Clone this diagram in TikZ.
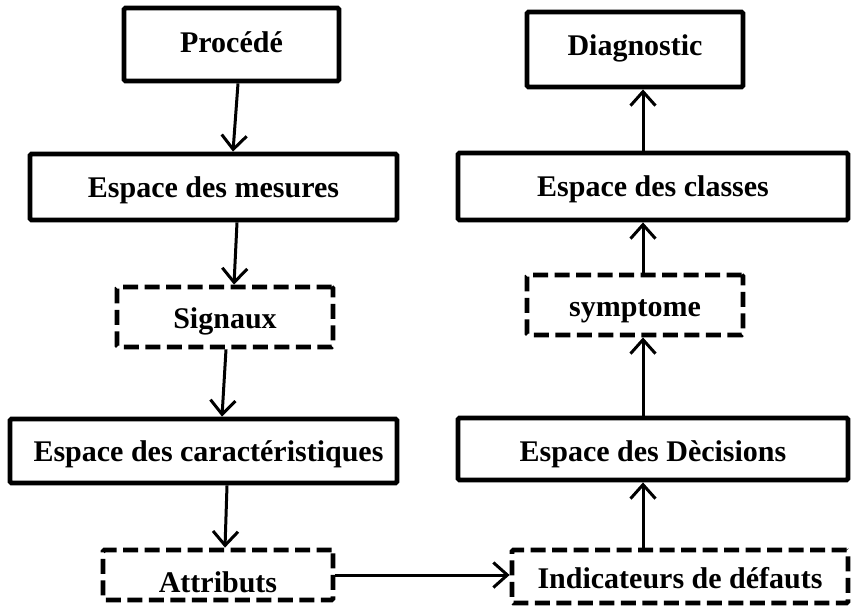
\documentclass[tikz,border=0pt]{standalone}
\usepackage{fontspec}
\setmainfont{Liberation Serif}
\usetikzlibrary{arrows.meta}
\begin{document}
\begin{tikzpicture}[x=1pt,y=-1pt,
  box/.style={draw, line width=4.8pt, rounded corners=1.5pt, inner sep=0pt,
    text height=0pt, text depth=0pt, font=\fontsize{30}{33}\selectfont\bfseries},
  dbox/.style={box, dash pattern=on 15pt off 6.5pt},
  conn/.style={line width=3pt, -{Straight Barb[length=14pt,width=25pt,line width=3pt]}}]
\useasboundingbox (0,0) rectangle (853,606);
\node[box, minimum width=215pt, minimum height=73pt] (proc) at (231.5,44.5) {\raisebox{-8pt}{Procédé}};
\node[box, minimum width=367pt, minimum height=66pt] (mes) at (213.5,187) {\raisebox{-10pt}{Espace des mesures}};
\node[dbox, minimum width=216pt, minimum height=60pt] (sig) at (225,317) {\raisebox{-11pt}{Signaux}};
\node[box, minimum width=387pt, minimum height=64pt] (car) at (203.5,451) {\raisebox{-10pt}{\hspace*{10pt}Espace des caractéristiques}};
\node[dbox, minimum width=230pt, minimum height=50pt] (att) at (218,575) {\raisebox{-17pt}{Attributs}};
\node[dbox, minimum width=336pt, minimum height=53pt] (ind) at (680,576.5) {\raisebox{-12pt}{Indicateurs de défauts}};
\node[box, minimum width=390pt, minimum height=62pt] (dec) at (653,449) {\raisebox{-12pt}{Espace des Dècisions}};
\node[dbox, minimum width=216pt, minimum height=60pt] (sym) at (635,305) {\raisebox{-11pt}{symptome}};
\node[box, minimum width=390pt, minimum height=67pt] (cla) at (653,186.5) {\raisebox{-10pt}{Espace des classes}};
\node[box, minimum width=216pt, minimum height=75pt] (dia) at (635,49.5) {\raisebox{-6pt}{Diagnostic}};
\draw[conn] ([xshift=6.5pt]proc.south) -- ([xshift=19.5pt]mes.north);
\draw[conn] ([xshift=23.5pt]mes.south) -- ([xshift=9pt]sig.north);
\draw[conn] ([xshift=1pt]sig.south) -- ([xshift=18.5pt]car.north);
\draw[conn] ([xshift=23.5pt]car.south) -- ([xshift=7pt]att.north);
\draw[conn] (att.east) -- (ind.west |- att.east);
\draw[conn] ([xshift=-37pt]ind.north) -- ([xshift=-10pt]dec.south);
\draw[conn] ([xshift=-10pt]dec.north) -- ([xshift=8pt]sym.south);
\draw[conn] ([xshift=8pt]sym.north) -- ([xshift=-10pt]cla.south);
\draw[conn] ([xshift=-10pt]cla.north) -- ([xshift=8pt]dia.south);
\end{tikzpicture}
\end{document}
